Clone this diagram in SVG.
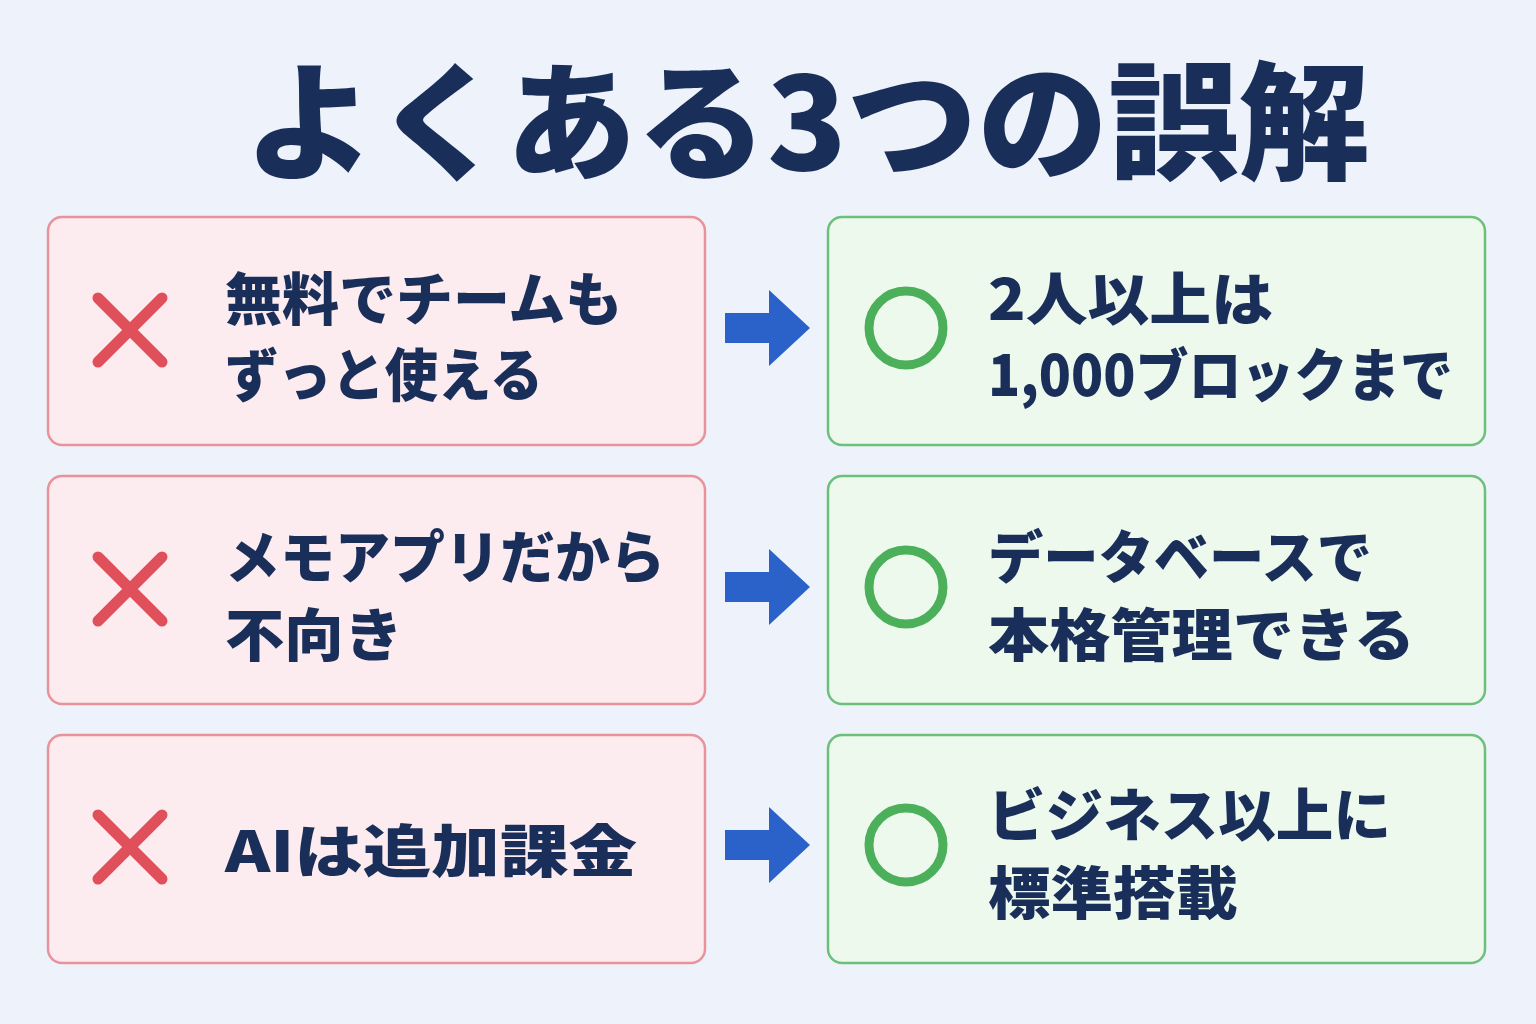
<svg xmlns="http://www.w3.org/2000/svg" width="1536" height="1024" viewBox="0 0 1536 1024">
<defs>
<style>
.t{font-family:"Noto Sans CJK JP","Noto Sans",sans-serif;font-weight:900;fill:#1a2e5a}
.bad{fill:#fdecef;stroke:#e8929c;stroke-width:2.5}
.good{fill:#eef9ee;stroke:#6cc07a;stroke-width:2.5}
.x{stroke:#e0505a;stroke-width:11;stroke-linecap:round}
.o{fill:none;stroke:#4caf5a;stroke-width:9}
.arr{fill:#2a62c9}
.lbl{font-size:57px}
</style>
<polygon id="arrow" points="0,-15 44,-15 44,-38 85,0 44,38 44,15 0,15"/>
</defs>
<rect width="1536" height="1024" fill="#eef3fb"/>
<text class="t" x="807" y="170" font-size="128" text-anchor="middle" textLength="1125" lengthAdjust="spacingAndGlyphs">よくある3つの誤解</text>

<g id="mistake1"><rect class="bad" x="48" y="217" width="657" height="228" rx="14"/>
<path class="x" d="M98,298 L162,362 M162,298 L98,362"/>
<text class="t lbl" x="225" y="320">無料でチームも</text><text class="t lbl" x="225" y="396" textLength="318" lengthAdjust="spacingAndGlyphs">ずっと使える</text></g>
<g id="fact1"><rect class="good" x="828" y="217" width="657" height="228" rx="14"/>
<circle class="o" cx="906" cy="328" r="37"/>
<text class="t lbl" x="988" y="320" textLength="285" lengthAdjust="spacingAndGlyphs">2人以上は</text><text class="t lbl" x="988" y="396" textLength="465" lengthAdjust="spacingAndGlyphs">1,000ブロックまで</text></g>

<g id="mistake2"><rect class="bad" x="48" y="476" width="657" height="228" rx="14"/>
<path class="x" d="M98,557 L162,621 M162,557 L98,621"/>
<text class="t lbl" x="225" y="578" textLength="440" lengthAdjust="spacingAndGlyphs">メモアプリだから</text><text class="t lbl" x="225" y="656" textLength="178" lengthAdjust="spacingAndGlyphs">不向き</text></g>
<g id="fact2"><rect class="good" x="828" y="476" width="657" height="228" rx="14"/>
<circle class="o" cx="906" cy="587" r="37"/>
<text class="t lbl" x="988" y="578" textLength="384" lengthAdjust="spacingAndGlyphs">データベースで</text><text class="t lbl" x="988" y="656" textLength="427" lengthAdjust="spacingAndGlyphs">本格管理できる</text></g>

<g id="mistake3"><rect class="bad" x="48" y="735" width="657" height="228" rx="14"/>
<path class="x" d="M98,815 L162,879 M162,815 L98,879"/>
<text class="t lbl" x="225" y="872" textLength="412" lengthAdjust="spacingAndGlyphs">AIは追加課金</text></g>
<g id="fact3"><rect class="good" x="828" y="735" width="657" height="228" rx="14"/>
<circle class="o" cx="906" cy="845" r="37"/>
<text class="t lbl" x="988" y="836" textLength="403" lengthAdjust="spacingAndGlyphs">ビジネス以上に</text><text class="t lbl" x="988" y="914" textLength="250" lengthAdjust="spacingAndGlyphs">標準搭載</text></g>

<g id="connectors">
<use href="#arrow" class="arr" x="725" y="328"/>
<use href="#arrow" class="arr" x="725" y="587"/>
<use href="#arrow" class="arr" x="725" y="845"/>
</g>
</svg>
